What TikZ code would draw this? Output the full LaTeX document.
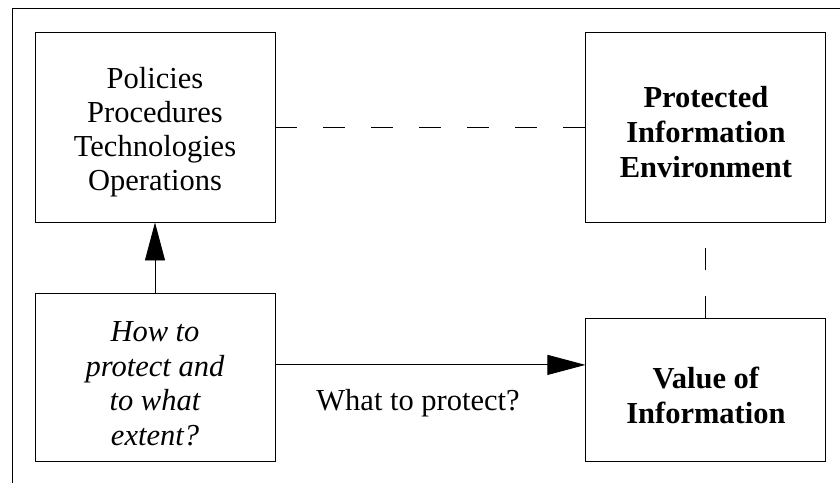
\documentclass[tikz,border=0pt]{standalone}
\usepackage{fontspec}
\setmainfont{Liberation Serif}
\usetikzlibrary{arrows.meta, positioning}
\newcommand{\lift}{\rule{0pt}{32pt}}
\tikzset{
  arrowB/.style={-{Triangle[length=38pt, width=20pt]}, line width=0.9pt},
  linkD/.style={line width=0.9pt, dash pattern=on 22pt off 26pt},
  boxP/.style={rectangle, draw, line width=0.9pt, align=center, inner sep=0pt,
               minimum width=240pt, font=\fontsize{30.5}{34}\selectfont},
  boxB/.style={boxP, font=\fontsize{30.5}{35}\selectfont\bfseries},
  boxI/.style={boxP, font=\fontsize{30.5}{34.5}\selectfont\itshape},
}

\begin{document}
\begin{tikzpicture}[x=1pt, y=-1pt]
    \useasboundingbox (0,0) rectangle (840,483);
    \draw[line width=0.9pt] (12,483) -- (12,8) -- (840,8);
    \node[boxP, minimum height=190pt] (ctrl) at (155,127)
      {\lift Policies\\Procedures\\Technologies\\Operations};
    \node[boxB, minimum height=190pt, right=310pt of ctrl] (env)
      {\lift Protected\\Information\\Environment};
    \node[boxI, minimum height=168pt, below=71pt of ctrl] (how)
      {\lift How to\\protect and\\to what\\extent?};
    \node[boxB, minimum height=143pt, below=96pt of env] (val)
      {\lift Value of\\Information};
    \draw[arrowB] (how) -- (ctrl);
    \draw[arrowB] ([yshift=13pt]how.east) -- ([yshift=25.5pt]val.west)
      node[pos=0.46, below=24pt, inner sep=0pt, font=\fontsize{30.5}{34}\selectfont] (what) {What to protect?};
    \draw[linkD] (ctrl) -- (env);
    \draw[linkD] (val) -- (env);
\end{tikzpicture}
\end{document}
